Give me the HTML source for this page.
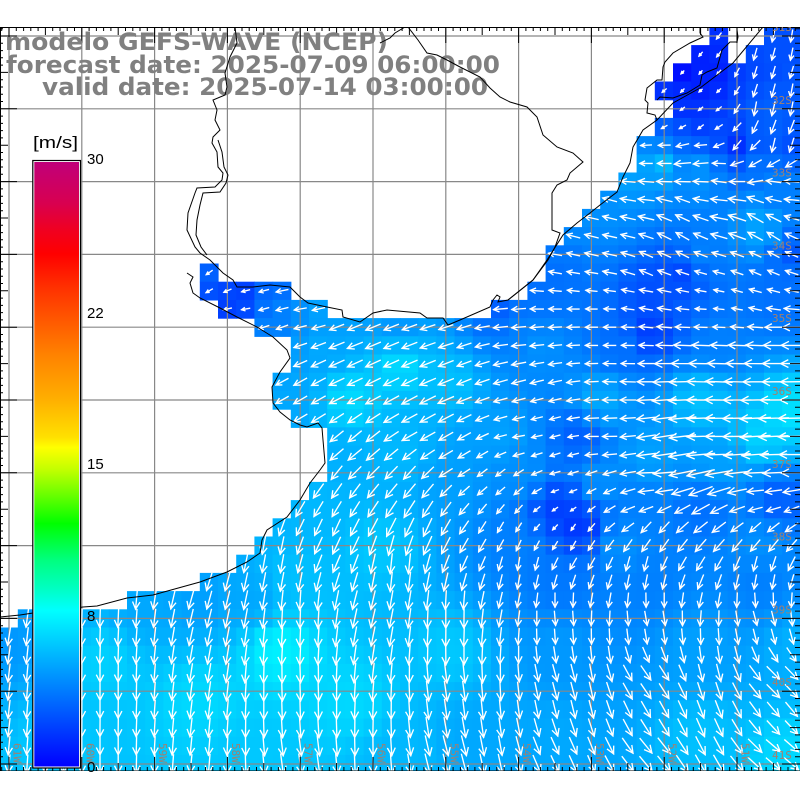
<!DOCTYPE html>
<html><head><meta charset="utf-8"><style>
html,body{margin:0;padding:0;background:#fff;}
body{width:800px;height:800px;overflow:hidden;}
svg{display:block;}
</style></head><body>
<svg id="m" xmlns="http://www.w3.org/2000/svg" width="800" height="800" viewBox="0 0 800 800">
<defs>
<clipPath id="mc"><rect x="0" y="27" width="800" height="744"/></clipPath>
<linearGradient id="cb" x1="0" y1="0" x2="0" y2="1">
<stop offset="0" stop-color="#c0007a"/>
<stop offset="0.068" stop-color="#d80050"/>
<stop offset="0.113" stop-color="#f00020"/>
<stop offset="0.152" stop-color="#ff0000"/>
<stop offset="0.207" stop-color="#ff3000"/>
<stop offset="0.262" stop-color="#ff5800"/>
<stop offset="0.316" stop-color="#ff8000"/>
<stop offset="0.394" stop-color="#ffb000"/>
<stop offset="0.455" stop-color="#ffe000"/>
<stop offset="0.472" stop-color="#ffff00"/>
<stop offset="0.51" stop-color="#c0ff00"/>
<stop offset="0.555" stop-color="#60ff00"/>
<stop offset="0.598" stop-color="#00ff00"/>
<stop offset="0.659" stop-color="#00ff80"/>
<stop offset="0.704" stop-color="#00ffc0"/>
<stop offset="0.742" stop-color="#00ffff"/>
<stop offset="1" stop-color="#0000ff"/>
</linearGradient>
</defs>
<rect width="800" height="800" fill="#fff"/>
<g clip-path="url(#mc)">
  <g id="cells"></g>
  <path id="grid" fill="none" stroke="#888" stroke-width="1.2"/>
  <path id="arr" fill="none" stroke="#fff" stroke-width="1.35" stroke-linecap="square"/>
  <path id="ticks" fill="none" stroke="#000" stroke-width="1"/>
  <g font-family="'DejaVu Sans','Liberation Sans',sans-serif" font-weight="bold" fill="#808080" font-size="24">
    <text x="5" y="50" textLength="383" lengthAdjust="spacingAndGlyphs">modelo GEFS-WAVE (NCEP)</text>
    <text x="6" y="73" textLength="494" lengthAdjust="spacingAndGlyphs">forecast date: 2025-07-09 06:00:00</text>
    <text x="42" y="95" textLength="446" lengthAdjust="spacingAndGlyphs">valid date: 2025-07-14 03:00:00</text>
  </g>
  <g fill="none" stroke="#000" stroke-width="1">
    <path d="M235,27 L237,43 230,57 225,73 227,87 225,95 213,100 217,110 215,120 220,130 213,137 212,143 217,152 218,167 223,173 222,180 215,187 197,188 195,193 188,213 187,230 195,247 200,253 210,260 223,273 233,280 237,287 253,287 270,285 290,287 300,297 308,303 327,307 342,310 343,317 360,322 373,313 387,310 420,313 427,318 443,318 448,325 460,320 490,307 493,300 497,295 500,297 498,302 508,300 533,280 548,260 555,247 560,233 552,230 552,193 557,185 567,180 570,173 583,162 573,153 557,147 543,135 537,117 527,107 510,102 500,97 490,88 480,77 460,67 447,60 437,55 427,53 418,40 408,27"/>
    <path d="M218,140 L222,152 224,167 228,175 226,183 220,192 203,193 200,205 197,220 196,235 201,247 207,255"/>
    <path d="M508,300 L533,280 547,260 563,235 577,223 590,213 600,205 617,192 623,177 630,163 633,147 643,130 657,120 673,103 700,88 733,63 763,27"/>
    <path d="M700,27 L700,33 703,37 690,43 673,53 665,62 663,67 662,80 657,80 647,88 645,100 648,103 647,113 655,115 657,120"/>
    <path d="M657,100 L660,97 673,98 687,93 700,85 702,75 707,72 717,68 722,50 730,42 737,42 738,37 737,30 737,27"/>
    <path d="M187,273 L193,277 190,283 193,293 200,298 220,308 237,317 257,327 273,337 287,350 290,358 280,372 272,387 273,403 280,412 290,420 300,425 307,427 318,423 322,428 323,440 325,463 320,470 310,483 300,500 287,517 267,530 262,540 260,553 247,562 227,572 200,582 153,595 127,598 97,606 83,607 33,613 20,615 0,617"/>
    <path d="M380,43 L390,38 395,33 405,27"/>
  </g>
  <g id="labs" font-family="'DejaVu Sans Mono','Liberation Mono',monospace" font-size="11" fill="#a08070"></g>
</g>
<rect x="32.8" y="160.5" width="47.7" height="607.5" fill="#fff" stroke="#000" stroke-width="1.2"/>
<rect x="34.3" y="162" width="44.7" height="604.5" fill="url(#cb)"/>
<g font-family="'Liberation Sans',sans-serif" font-size="15" fill="#000">
  <text x="33" y="148" font-size="17" textLength="45" lengthAdjust="spacingAndGlyphs">[m/s]</text>
  <text x="87" y="164">30</text>
  <text x="87" y="318">22</text>
  <text x="87" y="469">15</text>
  <text x="87" y="621">8</text>
  <text x="87" y="772">0</text>
</g>
</svg>
<script>
(function(){
var W=18.2,X0=-0.4,Y0=26.9;
var mask={0:[[39,39],[42,43]],1:[[38,39],[41,43]],2:[[37,43]],3:[[36,43]],4:[[37,43]],5:[[36,43]],
6:[[35,43]],7:[[35,43]],8:[[34,43]],9:[[33,43]],10:[[32,43]],11:[[31,43]],12:[[30,43]],
13:[[11,11],[30,43]],14:[[11,15],[29,43]],15:[[12,17],[27,43]],16:[[14,43]],17:[[16,43]],18:[[16,43]],
19:[[15,43]],20:[[15,43]],21:[[16,43]],22:[[18,43]],23:[[18,43]],24:[[18,43]],25:[[17,43]],
26:[[16,43]],27:[[15,43]],28:[[14,43]],29:[[13,43]],30:[[11,43]],31:[[7,43]],32:[[1,43]]};
var gp=[[718,36,0x30],[780,36,0x50],[700,54,0x20],[775,54,0x50],[682,72,0x10],[712,72,0x20],[760,72,0x48],
[664,91,0x30],[700,91,0x20],[780,91,0x58],[690,109,0x30],[770,109,0x60],[664,127,0x60],[700,127,0x40],[770,127,0x60],
[650,145,0x88],[700,145,0x60],[735,145,0x30],[790,145,0x50],[660,163,0xb8],[700,163,0x90],[760,163,0x70],
[630,182,0xa0],[700,182,0x90],[780,182,0x80],[610,200,0x90],[780,200,0x80],[600,218,0x90],[760,218,0xa0],
[580,236,0x88],[760,236,0xa0],[570,254,0x78],[700,254,0x80],[790,254,0x58],[560,273,0x70],[680,273,0x48],[780,273,0x70],
[540,291,0x70],[650,291,0x50],[780,291,0x70],
[209,273,0x60],[209,291,0x50],[240,291,0x40],[280,291,0x70],[230,309,0x40],[300,309,0x90],[320,309,0xa0],
[270,327,0x80],[400,327,0x98],[500,309,0x60],[520,327,0x80],
[320,345,0xa8],[400,364,0xd8],[350,400,0xd8],[290,400,0xa8],[450,382,0xc0],
[540,345,0x90],[620,345,0x70],[650,330,0x40],[720,345,0x80],
[600,400,0xa8],[700,400,0xc0],[790,410,0xe0],[760,436,0xd0],
[500,436,0xa0],[580,436,0x60],[650,455,0xa0],[720,460,0xa0],[520,473,0x90],[600,480,0x90],
[560,509,0x40],[580,527,0x38],[640,509,0x80],[700,509,0x70],[780,500,0x60],
[520,546,0x80],[620,546,0x90],[760,546,0x90],
[340,455,0xb0],[400,455,0xb8],[450,480,0xa0],[320,509,0xb8],[380,546,0xc8],[300,580,0xc0],[250,600,0xa8],
[200,600,0xa0],[140,605,0xa8],[40,620,0xa0],[10,640,0x98],[100,660,0xd0],[280,650,0xf0],[200,700,0xd8],[350,700,0xd8],[450,650,0xc8],
[60,750,0xc8],[250,760,0xc8],[400,760,0xb8],[480,740,0xa8],
[560,580,0x78],[650,580,0x80],[760,580,0x80],[560,650,0x98],[700,650,0xa0],[800,650,0xb0],
[560,740,0xa8],[700,740,0xc0],[790,760,0xd8]];
var ap=[[790,40,100],[760,60,105],[790,100,100],[760,110,100],[700,60,130],[680,90,135],[700,120,140],[670,130,150],
[660,145,180],[700,145,175],[735,145,130],[780,145,100],[660,163,180],[720,163,182],[770,163,150],
[640,182,185],[720,182,188],[780,182,190],[610,205,195],[680,215,205],[760,215,210],
[580,240,195],[680,240,210],[770,240,212],[560,265,190],[650,265,205],[760,265,205],
[530,291,185],[650,291,190],[760,291,195],
[209,273,145],[209,291,150],[250,291,165],[290,291,168],[240,309,170],[300,309,170],
[280,330,160],[350,330,158],[450,330,162],[510,310,175],[520,330,175],
[350,382,155],[450,382,158],[300,400,150],[420,420,152],[520,400,165],[520,436,170],
[350,450,140],[450,460,150],
[600,330,180],[700,330,182],[780,330,180],[620,382,182],[720,382,182],[790,400,180],
[600,436,180],[720,436,180],[790,460,180],[560,480,165],[650,480,178],[760,480,178],
[330,490,125],[420,490,130],[500,490,140],[560,509,145],[640,509,160],[760,509,165],
[330,530,115],[420,527,115],[500,527,120],[570,540,120],[650,540,125],[760,540,130],
[270,560,100],[400,570,95],[520,570,100],[640,575,100],[760,575,100],
[100,620,92],[300,620,92],[450,620,90],[560,620,85],[650,620,80],[760,620,75],
[100,690,90],[300,690,88],[450,690,82],[560,680,75],[650,680,55],[780,680,45],
[100,760,90],[300,760,82],[450,760,75],[560,760,65],[650,760,50],[780,760,40]];
var lp=[[770,60,12],[770,110,14],[790,140,14],[680,70,4],[700,90,4],[690,110,5],[660,130,6],
[660,150,12],[680,163,16],[650,200,16],[740,220,18],[620,260,14],[760,270,12],[600,300,11],[720,300,10],
[215,280,7],[240,295,8],[290,300,12],[350,360,16],[420,400,17],[500,360,14],
[600,345,12],[700,400,28],[760,420,30],[700,460,28],[600,420,14],[790,380,22],[560,440,10],
[560,510,6],[520,480,11],[650,520,14],[760,520,14],[350,480,17],[400,540,20],
[100,650,18],[300,650,20],[450,650,20],[560,600,14],[650,600,14],[760,600,14],
[100,740,18],[300,740,20],[450,740,20],[600,700,18],[750,700,18],[700,760,20]];
function idw(P,x,y){var sw=0,sv=0;for(var i=0;i<P.length;i++){var q=P[i],dx=q[0]-x,dy=q[1]-y,d2=dx*dx+dy*dy;if(d2<1)d2=1;var w=1/(d2*Math.sqrt(d2));sw+=w;sv+=w*q[2];}return sv/sw;}
var cs='',ad='';
function f(v){return v.toFixed(1);}
for(var r=0;r<=40;r++){
  var segs=mask.hasOwnProperty(r)?mask[r]:[[0,43]];
  for(var s=0;s<segs.length;s++){
    for(var c=segs[s][0];c<=segs[s][1];c++){
      var cx=9+W*c,cy=36+W*r;
      var G=Math.round(Math.max(0,Math.min(255,idw(gp,cx,cy))));
      cs+='<rect x="'+f(X0+W*c)+'" y="'+f(Y0+W*r)+'" width="18.8" height="18.8" fill="rgb(0,'+G+',255)"/>';
      var a=idw(ap,cx,cy)*Math.PI/180,L=Math.max(3,idw(lp,cx,cy));
      var ux=Math.cos(a),uy=Math.sin(a);
      var tx=cx-ux*L/2,ty=cy-uy*L/2,hx=cx+ux*L/2,hy=cy+uy*L/2;
      var h=Math.max(2.5,Math.min(8,0.42*L)),b=27*Math.PI/180;
      var c1=Math.cos(b),s1=Math.sin(b);
      var bx1=-ux*c1+uy*s1,by1=-uy*c1-ux*s1,bx2=-ux*c1-uy*s1,by2=-uy*c1+ux*s1;
      ad+='M'+f(tx)+','+f(ty)+'L'+f(hx)+','+f(hy)+'M'+f(hx+bx1*h)+','+f(hy+by1*h)+'L'+f(hx)+','+f(hy)+'L'+f(hx+bx2*h)+','+f(hy+by2*h);
    }
  }
}
document.getElementById('cells').innerHTML=cs;
document.getElementById('arr').setAttribute('d',ad);
var gd='';
for(var k=0;k<=10;k++){var x=9+72.8*k;gd+='M'+f(x)+',27V771';var y=36+72.8*k;gd+='M0,'+f(y)+'H800';}
document.getElementById('grid').setAttribute('d',gd);
var td='M0,27.5H800M0.5,27V771M0,771H800';
for(var i=-1;i<=110;i++){var x=9+7.28*i;if(x<0||x>800)continue;var m=((i%10)+10)%10;
  var lt=m==0?16:(m==5?8:4),lb=m==0?14:(m==5?8:4);
  td+='M'+f(x)+',27v'+lt+'M'+f(x)+',771v-'+lb;}
for(var i=-2;i<=103;i++){var y=36+7.28*i;if(y<27||y>771)continue;var m=((i%10)+10)%10;
  var ll=m==0?17:(m==5?8:3),lr=m==0?18:(m==5?10:5);
  td+='M0,'+f(y)+'h'+ll+'M800,'+f(y)+'h-'+lr;}
document.getElementById('ticks').setAttribute('d',td);
var ls='';
for(var k=0;k<=10;k++){
  var y=36+72.8*k;ls+='<text x="772" y="'+f(y-5)+'">'+(31+k)+'S</text>';
  var x=9+72.8*k+4.5;ls+='<text transform="translate('+f(x)+',743) rotate(90)">'+(61-k)+'W</text>';
}
document.getElementById('labs').innerHTML=ls;
})();
</script>
</body></html>
